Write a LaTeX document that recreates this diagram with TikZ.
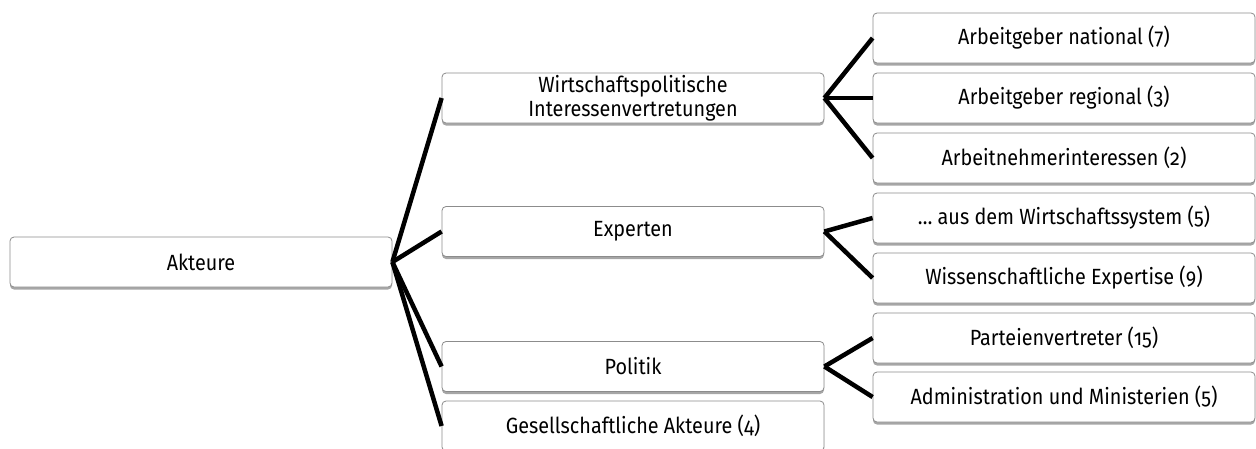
\documentclass[tikz,border=0pt]{standalone}
\usepackage{fontspec}
\setmainfont{Fira Sans}[Numbers=OldStyle, FakeStretch=0.90]
\usetikzlibrary{shadows}
\begin{document}
\begin{tikzpicture}[x=1pt,y=-1pt,
  box/.style={draw=black!45, line width=0.8pt, fill=white, rounded corners=4pt,
    minimum width=382pt, minimum height=50pt, inner sep=0pt, align=center,
    font=\fontsize{22}{24}\selectfont,
    drop shadow={shadow xshift=0pt, shadow yshift=-2.5pt, opacity=0.35, fill=black}},
  link/.style={line width=4.5pt, black}]
\useasboundingbox (0,0) rectangle (1256,448);
\clip (0,0) rectangle (1256,448);
% nodes
\node[box] (akt) at (201,262) {Akteure};
\node[box] (wip) at (633,98) {Wirtschaftspolitische\\Interessenvertretungen};
\node[box] (exp) at (633,231.5) {Experten};
\node[box] (pol) at (633,366.5) {Politik};
\node[box] (ges) at (633,426) {Gesellschaftliche Akteure (4)};
\node[box] (agn) at (1064,38) {Arbeitgeber national (7)};
\node[box] (agr) at (1064,98) {Arbeitgeber regional (3)};
\node[box] (ani) at (1064,158) {Arbeitnehmerinteressen (2)};
\node[box] (aus) at (1064,218) {… aus dem Wirtschaftssystem (5)};
\node[box] (wis) at (1064,278) {Wissenschaftliche Expertise (9)};
\node[box] (par) at (1064,338) {Parteienvertreter (15)};
\node[box] (adm) at (1064,397) {Administration und Ministerien (5)};
% connectors
\foreach \t in {wip,exp,pol,ges} \draw[link] (akt.east) -- (\t.west);
\foreach \t in {agn,agr,ani} \draw[link] (wip.east) -- (\t.west);
\foreach \t in {aus,wis} \draw[link] (exp.east) -- (\t.west);
\foreach \t in {par,adm} \draw[link] (pol.east) -- (\t.west);
\end{tikzpicture}
\end{document}
